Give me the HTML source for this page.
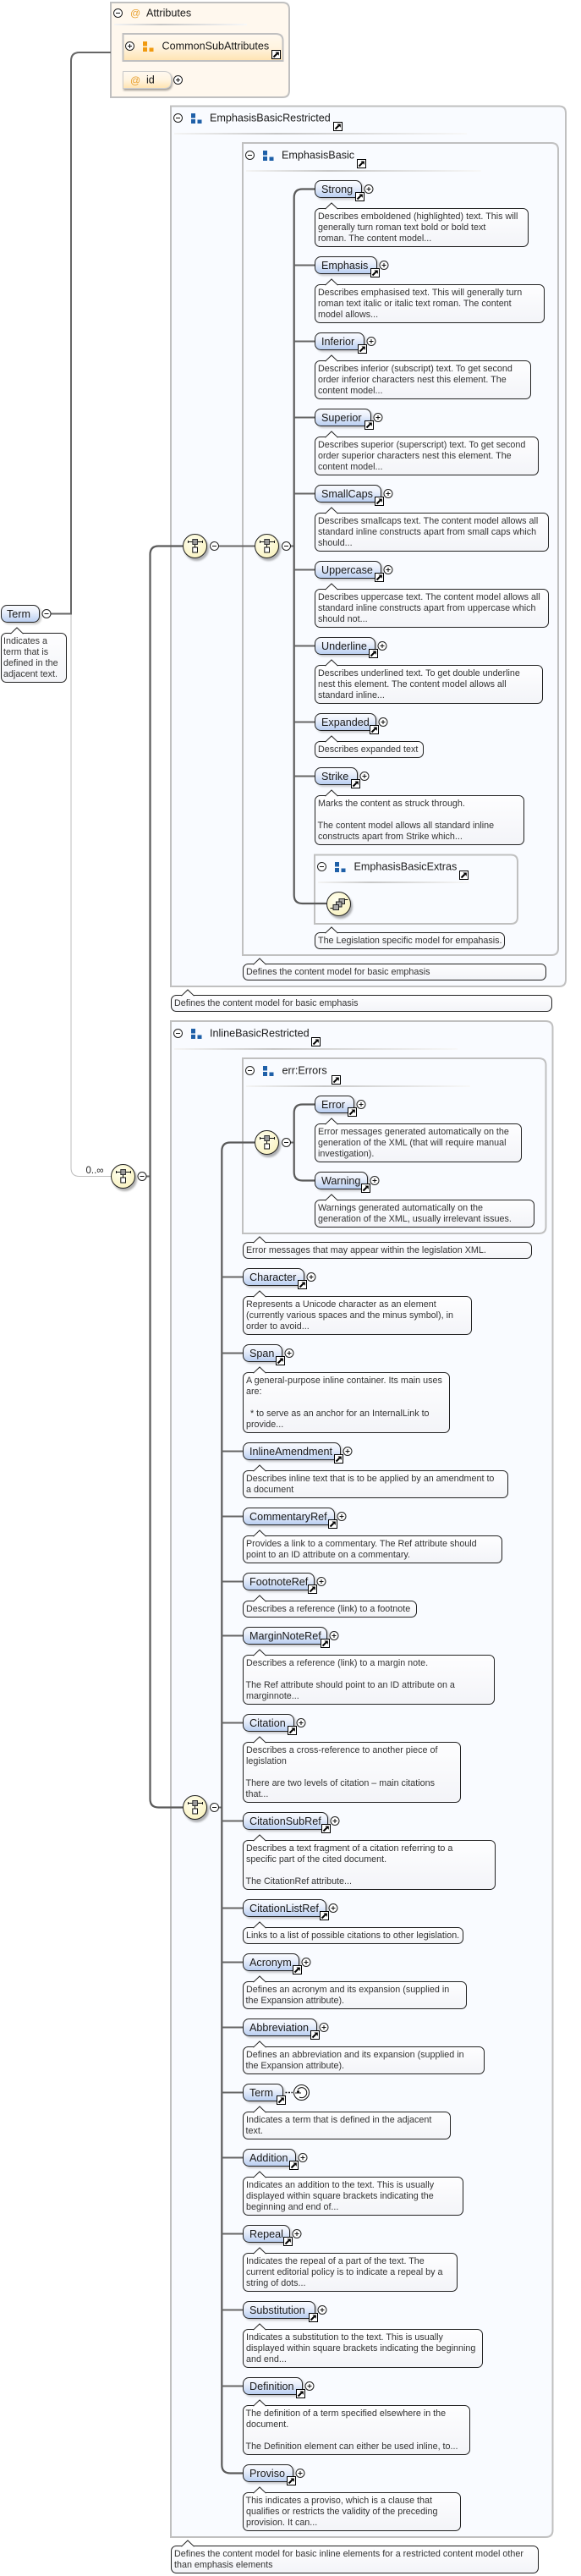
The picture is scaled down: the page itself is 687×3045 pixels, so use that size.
<!DOCTYPE html>
<html><head><meta charset="utf-8"><style>
html,body{margin:0;padding:0;background:#fff}
svg{display:block}
text{font-family:"Liberation Sans",sans-serif;white-space:pre}
.d{font-size:10.75px;fill:#333}
.e{font-size:12.6px;fill:#1a1a1a}
.n{fill:url(#ng);stroke:#222;stroke-width:1;filter:drop-shadow(2px 2px 1px rgba(0,0,0,.2))}
.t{fill:url(#tg);stroke:#222}
.b{fill:#f9fbff;stroke:#c0c0c0;stroke-width:2}
.c{fill:none;stroke:#666;stroke-width:2}
.v{fill:none;stroke:#5a5a5a;stroke-width:2.2}
.dv{fill:url(#dg)}
</style></head><body>
<svg width="687" height="3045" viewBox="0 0 687 3045" xmlns="http://www.w3.org/2000/svg">
<defs>
<linearGradient id="ng" x1="0" y1="0" x2="0" y2="1"><stop offset="0" stop-color="#fbfcff"/><stop offset=".4" stop-color="#e9effb"/><stop offset="1" stop-color="#b8cdf0"/></linearGradient>
<linearGradient id="tg" x1="0" y1="0" x2="0" y2="1"><stop offset="0" stop-color="#fefeff"/><stop offset="1" stop-color="#f3f4f8"/></linearGradient>
<linearGradient id="dg" x1="0" y1="0" x2="1" y2="0"><stop offset="0" stop-color="#f4f4f4"/><stop offset=".35" stop-color="#c8c8c8"/><stop offset="1" stop-color="#f8f8f8"/></linearGradient>
<linearGradient id="og" x1="0" y1="0" x2="0" y2="1"><stop offset="0" stop-color="#fff9f0"/><stop offset=".5" stop-color="#fff4e0"/><stop offset="1" stop-color="#ffe3b0"/></linearGradient>
<radialGradient id="yg" cx=".4" cy=".35" r=".8"><stop offset="0" stop-color="#fffff0"/><stop offset="1" stop-color="#f8f0b8"/></radialGradient>
<g id="lk"><rect x=".5" y=".5" width="10" height="10" fill="#fff" stroke="#000"/><path d="M2.5 8.5L6.5 4.5" stroke="#000" stroke-width="2"/><path d="M4.5 2.5H8.8V6.8Z" fill="#000"/></g>
<g id="bp"><circle r="5" fill="#fff" stroke="#222"/><path d="M-2.5 0H2.5M0-2.5V2.5" stroke="#111"/></g>
<g id="bm"><circle r="5" fill="#fff" stroke="#222"/><path d="M-2.5 0H2.5" stroke="#111"/></g>
<path id="pt" d="M-7.5 .7L0-6.5L7.5 .7" fill="#fefeff" stroke="#222"/>
<g id="sq"><circle r="14" fill="url(#yg)" stroke="#222" style="filter:drop-shadow(2px 3px 1px rgba(0,0,0,.3))"/><path d="M-8-5H9M0-2V1.5M-8-6.5V-3.5M9-6.5V-3.5" stroke="#111"/><rect x="-2.7" y="-8" width="5.7" height="6" fill="#999" stroke="#333"/><rect x="-2.7" y="1.5" width="5.7" height="6" fill="#fff" stroke="#111"/></g>
<g id="gb" fill="#1f60a8"><rect width="5" height="5.5"/><rect y="7" width="5" height="5"/><rect x="7.5" y="7.5" width="5" height="4.5"/></g>
<g id="go" fill="#f09a10"><rect width="5" height="5.5"/><rect y="7" width="5" height="5"/><rect x="7.5" y="7.5" width="5" height="4.5"/></g>
</defs>

<!-- boxes -->
<path d="M131 3H334Q342 3 342 11V107Q342 115 334 115H131Z" fill="#fff8ee" stroke="#c0c0c0" stroke-width="2"/>
<path class="b" d="M202 125.500H661Q669 125.500 669 133.500V1158Q669 1166 661 1166H202Z"/>
<path class="b" d="M287 169H652Q660 169 660 177V1121Q660 1129 652 1129H287Z"/>
<path class="b" d="M372 1010.500H604Q612 1010.500 612 1018.500V1084Q612 1092 604 1092H372Z"/>
<path class="b" d="M202 1207H645Q653.500 1207 653.500 1215V2991Q653.500 2999 645 2999H202Z"/>
<path class="b" d="M287 1251H637Q645.500 1251 645.500 1259V1450Q645.500 1458 637 1458H287Z"/>

<!-- connectors -->
<path d="M84 725V1380.500Q84 1390.500 94 1390.500H131" fill="none" stroke="#bdbdbd"/>
<path class="c" d="M60 725.500H84V72Q84 62 94 62H131"/>
<path class="c" d="M173 1390.500H177.500"/>
<path class="v" d="M216 645.500H187.500Q177.500 645.500 177.500 655.500V2126.500Q177.500 2136.500 187.500 2136.500H216"/>
<path class="c" d="M258 645.500H301M343 645.500H348M258 2136.500H262.500M343 1350.500H348"/>
<path class="v" d="M372 223.500H357.700Q347.700 223.500 347.700 233.500V1058Q347.700 1068 357.700 1068H386"/>
<path class="c" d="M348 313.500H372M348 403.500H372M348 493.500H372M348 583.500H372M348 673.500H372M348 763.500H372M348 853.500H372M348 917.500H372"/>
<path class="v" d="M372 1305.500H357.700Q347.700 1305.500 347.700 1315.500V1385.500Q347.700 1395.500 357.700 1395.500H372"/>
<path class="v" d="M301 1350.500H272.300Q262.300 1350.500 262.300 1360.500V2913.500Q262.300 2923.500 272.300 2923.500H287"/>
<path class="c" d="M262 1509.500H287M262 1599.500H287M262 1715.500H287M262 1792.500H287M262 1869.500H287M262 1933.500H287M262 2036.500H287M262 2152.500H287M262 2255.500H287M262 2319.500H287M262 2396.500H287M262 2473.500H287M262 2550.500H287M262 2640.500H287M262 2730.500H287M262 2820.500H287"/>

<!-- Attributes -->
<use href="#bm" x="139.500" y="15.500"/>
<text x="154" y="19.500" style="font-size:12px;fill:#e8a030">@</text>
<text class="e" x="173" y="19.500">Attributes</text>
<rect class="dv" x="135" y="28" width="157" height="2"/>
<path d="M145.500 40H326Q334.500 40 334.500 48V72H145.500Z" fill="url(#og)" stroke="#c0c0c0" stroke-width="2"/>
<use href="#bp" x="153.500" y="54.500"/>
<use href="#go" x="169" y="49"/>
<text class="e" x="191.500" y="58.500">CommonSubAttributes</text>
<use href="#lk" x="321" y="59"/>
<path d="M145.500 84.500H194Q202.500 84.500 202.500 93V96Q202.500 104.500 194 104.500H145.500Z" fill="url(#og)" stroke="#ccc" style="filter:drop-shadow(1px 2px 1px rgba(0,0,0,.35))"/>
<text x="154" y="99" style="font-size:12px;fill:#e8a030">@</text>
<text class="e" x="173" y="98.500">id</text>
<use href="#bp" x="210.500" y="94.500"/>

<!-- EmphasisBasicRestricted -->
<use href="#bm" x="210.500" y="139.500"/><use href="#gb" x="226" y="134"/>
<text class="e" x="248" y="143.500">EmphasisBasicRestricted</text>
<use href="#lk" x="394" y="144"/><rect class="dv" x="206" y="157" width="346" height="2"/>
<use href="#bm" x="295.500" y="183.500"/><use href="#gb" x="311" y="178"/>
<text class="e" x="333" y="187.500">EmphasisBasic</text>
<use href="#lk" x="422" y="188"/><rect class="dv" x="291" y="201" width="278" height="2"/>

<!-- root -->
<g transform="translate(1,715)"><rect class="n" x=".5" y=".5" width="45" height="20" rx="7"/><text class="e" x="7" y="15">Term</text></g>
<use href="#bm" x="55" y="725.500"/>
<g transform="translate(1,748)"><rect class="t" x=".5" y=".5" width="77" height="58" rx="6"/><use href="#pt" x="19" y=".5"/><text class="d" x="3" y="13">Indicates a</text><text class="d" x="3" y="26">term that is</text><text class="d" x="3" y="39">defined in the</text><text class="d" x="3" y="52">adjacent text.</text></g>
<text x="101.500" y="1387" style="font-size:11.500px;fill:#222">0..∞</text>

<use href="#sq" x="145.500" y="1390.500"/><use href="#bm" x="168" y="1390.500"/>
<use href="#sq" x="230.500" y="645.500"/><use href="#bm" x="253.500" y="645.500"/>
<use href="#sq" x="315.500" y="645.500"/><use href="#bm" x="338.500" y="645.500"/>
<use href="#sq" x="230.500" y="2136.500"/><use href="#bm" x="253.500" y="2136.500"/>
<use href="#sq" x="315.500" y="1350.500"/><use href="#bm" x="338.500" y="1350.500"/>

<!-- Emphasis items -->
<g transform="translate(372,213)"><rect class="n" x=".5" y=".5" width="55" height="20" rx="7"/><text class="e" x="8" y="15">Strong</text><use href="#lk" x="48" y="14"/><use href="#bp" x="64" y="10.500"/></g>
<g transform="translate(372,246)"><rect class="t" x=".5" y=".5" width="252" height="45" rx="6"/><use href="#pt" x="20" y=".5"/><text class="d" x="4" y="13">Describes emboldened (highlighted) text. This will</text><text class="d" x="4" y="26">generally turn roman text bold or bold text</text><text class="d" x="4" y="39">roman. The content model...</text></g>

<g transform="translate(372,303)"><rect class="n" x=".5" y=".5" width="73" height="20" rx="7"/><text class="e" x="8" y="15">Emphasis</text><use href="#lk" x="66" y="14"/><use href="#bp" x="82" y="10.500"/></g>
<g transform="translate(372,336)"><rect class="t" x=".5" y=".5" width="271" height="45" rx="6"/><use href="#pt" x="20" y=".5"/><text class="d" x="4" y="13">Describes emphasised text. This will generally turn</text><text class="d" x="4" y="26">roman text italic or italic text roman. The content</text><text class="d" x="4" y="39">model allows...</text></g>

<g transform="translate(372,393)"><rect class="n" x=".5" y=".5" width="58" height="20" rx="7"/><text class="e" x="8" y="15">Inferior</text><use href="#lk" x="51" y="14"/><use href="#bp" x="67" y="10.500"/></g>
<g transform="translate(372,426)"><rect class="t" x=".5" y=".5" width="255" height="45" rx="6"/><use href="#pt" x="20" y=".5"/><text class="d" x="4" y="13">Describes inferior (subscript) text. To get second</text><text class="d" x="4" y="26">order inferior characters nest this element. The</text><text class="d" x="4" y="39">content model...</text></g>

<g transform="translate(372,483)"><rect class="n" x=".5" y=".5" width="66" height="20" rx="7"/><text class="e" x="8" y="15">Superior</text><use href="#lk" x="59" y="14"/><use href="#bp" x="75" y="10.500"/></g>
<g transform="translate(372,516)"><rect class="t" x=".5" y=".5" width="264" height="45" rx="6"/><use href="#pt" x="20" y=".5"/><text class="d" x="4" y="13">Describes superior (superscript) text. To get second</text><text class="d" x="4" y="26">order superior characters nest this element. The</text><text class="d" x="4" y="39">content model...</text></g>

<g transform="translate(372,573)"><rect class="n" x=".5" y=".5" width="78" height="20" rx="7"/><text class="e" x="8" y="15">SmallCaps</text><use href="#lk" x="71" y="14"/><use href="#bp" x="87" y="10.500"/></g>
<g transform="translate(372,606)"><rect class="t" x=".5" y=".5" width="276" height="45" rx="6"/><use href="#pt" x="20" y=".5"/><text class="d" x="4" y="13">Describes smallcaps text. The content model allows all</text><text class="d" x="4" y="26">standard inline constructs apart from small caps which</text><text class="d" x="4" y="39">should...</text></g>

<g transform="translate(372,663)"><rect class="n" x=".5" y=".5" width="78" height="20" rx="7"/><text class="e" x="8" y="15">Uppercase</text><use href="#lk" x="71" y="14"/><use href="#bp" x="87" y="10.500"/></g>
<g transform="translate(372,696)"><rect class="t" x=".5" y=".5" width="276" height="45" rx="6"/><use href="#pt" x="20" y=".5"/><text class="d" x="4" y="13">Describes uppercase text. The content model allows all</text><text class="d" x="4" y="26">standard inline constructs apart from uppercase which</text><text class="d" x="4" y="39">should not...</text></g>

<g transform="translate(372,753)"><rect class="n" x=".5" y=".5" width="71" height="20" rx="7"/><text class="e" x="8" y="15">Underline</text><use href="#lk" x="64" y="14"/><use href="#bp" x="80" y="10.500"/></g>
<g transform="translate(372,786)"><rect class="t" x=".5" y=".5" width="269" height="45" rx="6"/><use href="#pt" x="20" y=".5"/><text class="d" x="4" y="13">Describes underlined text. To get double underline</text><text class="d" x="4" y="26">nest this element. The content model allows all</text><text class="d" x="4" y="39">standard inline...</text></g>

<g transform="translate(372,843)"><rect class="n" x=".5" y=".5" width="72" height="20" rx="7"/><text class="e" x="8" y="15">Expanded</text><use href="#lk" x="65" y="14"/><use href="#bp" x="81" y="10.500"/></g>
<g transform="translate(372,876)"><rect class="t" x=".5" y=".5" width="128" height="19" rx="6"/><use href="#pt" x="20" y=".5"/><text class="d" x="4" y="13">Describes expanded text</text></g>

<g transform="translate(372,907)"><rect class="n" x=".5" y=".5" width="50" height="20" rx="7"/><text class="e" x="8" y="15">Strike</text><use href="#lk" x="43" y="14"/><use href="#bp" x="59" y="10.500"/></g>
<g transform="translate(372,940)"><rect class="t" x=".5" y=".5" width="247" height="58" rx="6"/><use href="#pt" x="20" y=".5"/><text class="d" x="4" y="13">Marks the content as struck through.</text><text class="d" x="3.500" y="39">The content model allows all standard inline</text><text class="d" x="4" y="52">constructs apart from Strike which...</text></g>

<!-- EmphasisBasicExtras -->
<use href="#bm" x="380.500" y="1024.500"/><use href="#gb" x="396" y="1019"/>
<text class="e" x="418.500" y="1028.500">EmphasisBasicExtras</text>
<use href="#lk" x="543" y="1029"/><rect class="dv" x="376" y="1042" width="179" height="2"/>
<g transform="translate(400.500,1068.500)"><circle r="14" fill="url(#yg)" stroke="#222" style="filter:drop-shadow(2px 3px 1px rgba(0,0,0,.3))"/><path d="M-10 5H-6M7-5H11" stroke="#111"/><rect x="0.500" y="-6" width="6.500" height="6" fill="#aaa" stroke="#222"/><rect x="-3" y="-2.500" width="6.500" height="6" fill="#aaa" stroke="#222"/><rect x="-6.500" y="1" width="6.500" height="6" fill="#aaa" stroke="#222"/></g>
<g transform="translate(372,1102)"><rect class="t" x=".5" y=".5" width="224" height="19" rx="6"/><use href="#pt" x="20" y=".5"/><text class="d" x="4" y="13">The Legislation specific model for empahasis.</text></g>
<g transform="translate(287,1139)"><rect class="t" x=".5" y=".5" width="358" height="19" rx="6"/><use href="#pt" x="20" y=".5"/><text class="d" x="4" y="13">Defines the content model for basic emphasis</text></g>
<g transform="translate(202,1176)"><rect class="t" x=".5" y=".5" width="450" height="19" rx="6"/><use href="#pt" x="20" y=".5"/><text class="d" x="4" y="13">Defines the content model for basic emphasis</text></g>

<!-- InlineBasicRestricted -->
<use href="#bm" x="210.500" y="1221.500"/><use href="#gb" x="226" y="1216"/>
<text class="e" x="248" y="1225.500">InlineBasicRestricted</text>
<use href="#lk" x="368" y="1226"/><rect class="dv" x="206" y="1239" width="335" height="2"/>
<use href="#bm" x="295.500" y="1265.500"/><use href="#gb" x="311" y="1260"/>
<text class="e" x="333.500" y="1269.500">err:Errors</text>
<use href="#lk" x="392" y="1271"/><rect class="dv" x="291" y="1283" width="265" height="2"/>

<g transform="translate(372,1295)"><rect class="n" x=".5" y=".5" width="46" height="20" rx="7"/><text class="e" x="8" y="15">Error</text><use href="#lk" x="39" y="14"/><use href="#bp" x="55" y="10.500"/></g>
<g transform="translate(372,1328)"><rect class="t" x=".5" y=".5" width="244" height="45" rx="6"/><use href="#pt" x="20" y=".5"/><text class="d" x="4" y="13">Error messages generated automatically on the</text><text class="d" x="4" y="26">generation of the XML (that will require manual</text><text class="d" x="4" y="39">investigation).</text></g>
<g transform="translate(372,1385)"><rect class="n" x=".5" y=".5" width="62" height="20" rx="7"/><text class="e" x="8" y="15">Warning</text><use href="#lk" x="55" y="14"/><use href="#bp" x="71" y="10.500"/></g>
<g transform="translate(372,1418)"><rect class="t" x=".5" y=".5" width="259" height="32" rx="6"/><use href="#pt" x="20" y=".5"/><text class="d" x="4" y="13">Warnings generated automatically on the</text><text class="d" x="4" y="26">generation of the XML, usually irrelevant issues.</text></g>
<g transform="translate(287,1468)"><rect class="t" x=".5" y=".5" width="341" height="19" rx="6"/><use href="#pt" x="20" y=".5"/><text class="d" x="4" y="13">Error messages that may appear within the legislation XML.</text></g>

<g transform="translate(287,1499)"><rect class="n" x=".5" y=".5" width="72" height="20" rx="7"/><text class="e" x="8" y="15">Character</text><use href="#lk" x="65" y="14"/><use href="#bp" x="81" y="10.500"/></g>
<g transform="translate(287,1532)"><rect class="t" x=".5" y=".5" width="270" height="45" rx="6"/><use href="#pt" x="20" y=".5"/><text class="d" x="4" y="13">Represents a Unicode character as an element</text><text class="d" x="4" y="26">(currently various spaces and the minus symbol), in</text><text class="d" x="4" y="39">order to avoid...</text></g>

<g transform="translate(287,1589)"><rect class="n" x=".5" y=".5" width="46" height="20" rx="7"/><text class="e" x="8" y="15">Span</text><use href="#lk" x="39" y="14"/><use href="#bp" x="55" y="10.500"/></g>
<g transform="translate(287,1622)"><rect class="t" x=".5" y=".5" width="244" height="71" rx="6"/><use href="#pt" x="20" y=".5"/><text class="d" x="4" y="13">A general-purpose inline container. Its main uses</text><text class="d" x="4" y="26">are:</text><text class="d" x="9" y="52">* to serve as an anchor for an InternalLink to</text><text class="d" x="4" y="65">provide...</text></g>

<g transform="translate(287,1705)"><rect class="n" x=".5" y=".5" width="115" height="20" rx="7"/><text class="e" x="8" y="15">InlineAmendment</text><use href="#lk" x="108" y="14"/><use href="#bp" x="124" y="10.500"/></g>
<g transform="translate(287,1738)"><rect class="t" x=".5" y=".5" width="313" height="32" rx="6"/><use href="#pt" x="20" y=".5"/><text class="d" x="4" y="13">Describes inline text that is to be applied by an amendment to</text><text class="d" x="4" y="26">a document</text></g>

<g transform="translate(287,1782)"><rect class="n" x=".5" y=".5" width="108" height="20" rx="7"/><text class="e" x="8" y="15">CommentaryRef</text><use href="#lk" x="101" y="14"/><use href="#bp" x="117" y="10.500"/></g>
<g transform="translate(287,1815)"><rect class="t" x=".5" y=".5" width="306" height="32" rx="6"/><use href="#pt" x="20" y=".5"/><text class="d" x="4" y="13">Provides a link to a commentary. The Ref attribute should</text><text class="d" x="4" y="26">point to an ID attribute on a commentary.</text></g>

<g transform="translate(287,1859)"><rect class="n" x=".5" y=".5" width="84" height="20" rx="7"/><text class="e" x="8" y="15">FootnoteRef</text><use href="#lk" x="77" y="14"/><use href="#bp" x="93" y="10.500"/></g>
<g transform="translate(287,1892)"><rect class="t" x=".5" y=".5" width="205" height="19" rx="6"/><use href="#pt" x="20" y=".5"/><text class="d" x="4" y="13">Describes a reference (link) to a footnote</text></g>

<g transform="translate(287,1923)"><rect class="n" x=".5" y=".5" width="99" height="20" rx="7"/><text class="e" x="8" y="15">MarginNoteRef</text><use href="#lk" x="92" y="14"/><use href="#bp" x="108" y="10.500"/></g>
<g transform="translate(287,1956)"><rect class="t" x=".5" y=".5" width="297" height="58" rx="6"/><use href="#pt" x="20" y=".5"/><text class="d" x="4" y="13">Describes a reference (link) to a margin note.</text><text class="d" x="3.500" y="39">The Ref attribute should point to an ID attribute on a</text><text class="d" x="4" y="52">marginnote...</text></g>

<g transform="translate(287,2026)"><rect class="n" x=".5" y=".5" width="60" height="20" rx="7"/><text class="e" x="8" y="15">Citation</text><use href="#lk" x="53" y="14"/><use href="#bp" x="69" y="10.500"/></g>
<g transform="translate(287,2059)"><rect class="t" x=".5" y=".5" width="257" height="71" rx="6"/><use href="#pt" x="20" y=".5"/><text class="d" x="4" y="13">Describes a cross-reference to another piece of</text><text class="d" x="4" y="26">legislation</text><text class="d" x="3.500" y="52">There are two levels of citation – main citations</text><text class="d" x="3.500" y="65">that...</text></g>

<g transform="translate(287,2142)"><rect class="n" x=".5" y=".5" width="100" height="20" rx="7"/><text class="e" x="8" y="15">CitationSubRef</text><use href="#lk" x="93" y="14"/><use href="#bp" x="109" y="10.500"/></g>
<g transform="translate(287,2175)"><rect class="t" x=".5" y=".5" width="298" height="58" rx="6"/><use href="#pt" x="20" y=".5"/><text class="d" x="4" y="13">Describes a text fragment of a citation referring to a</text><text class="d" x="4" y="26">specific part of the cited document.</text><text class="d" x="3.500" y="52">The CitationRef attribute...</text></g>

<g transform="translate(287,2245)"><rect class="n" x=".5" y=".5" width="98" height="20" rx="7"/><text class="e" x="8" y="15">CitationListRef</text><use href="#lk" x="91" y="14"/><use href="#bp" x="107" y="10.500"/></g>
<g transform="translate(287,2278)"><rect class="t" x=".5" y=".5" width="260" height="19" rx="6"/><use href="#pt" x="20" y=".5"/><text class="d" x="4" y="13">Links to a list of possible citations to other legislation.</text></g>

<g transform="translate(287,2309)"><rect class="n" x=".5" y=".5" width="66" height="20" rx="7"/><text class="e" x="8" y="15">Acronym</text><use href="#lk" x="59" y="14"/><use href="#bp" x="75" y="10.500"/></g>
<g transform="translate(287,2342)"><rect class="t" x=".5" y=".5" width="264" height="32" rx="6"/><use href="#pt" x="20" y=".5"/><text class="d" x="4" y="13">Defines an acronym and its expansion (supplied in</text><text class="d" x="3.500" y="26">the Expansion attribute).</text></g>

<g transform="translate(287,2386)"><rect class="n" x=".5" y=".5" width="87" height="20" rx="7"/><text class="e" x="8" y="15">Abbreviation</text><use href="#lk" x="80" y="14"/><use href="#bp" x="96" y="10.500"/></g>
<g transform="translate(287,2419)"><rect class="t" x=".5" y=".5" width="285" height="32" rx="6"/><use href="#pt" x="20" y=".5"/><text class="d" x="4" y="13">Defines an abbreviation and its expansion (supplied in</text><text class="d" x="3.500" y="26">the Expansion attribute).</text></g>

<g transform="translate(287,2463)"><rect class="n" x=".5" y=".5" width="47" height="20" rx="7"/><text class="e" x="8" y="15">Term</text><use href="#lk" x="40" y="14"/></g>
<path d="M337.500 2473.500H346" stroke="#111" stroke-width="1.500" stroke-dasharray="2 1.500" fill="none"/>
<circle cx="356.500" cy="2473.500" r="9" fill="#fff" stroke="#111"/><path d="M352 2470A6 6 0 1 1 354 2479M349 2474H356" fill="none" stroke="#111"/><circle cx="352.500" cy="2472.500" r="1.500" fill="#111"/>
<g transform="translate(287,2496)"><rect class="t" x=".5" y=".5" width="245" height="32" rx="6"/><use href="#pt" x="20" y=".5"/><text class="d" x="4" y="13">Indicates a term that is defined in the adjacent</text><text class="d" x="3.500" y="26">text.</text></g>

<g transform="translate(287,2540)"><rect class="n" x=".5" y=".5" width="62" height="20" rx="7"/><text class="e" x="8" y="15">Addition</text><use href="#lk" x="55" y="14"/><use href="#bp" x="71" y="10.500"/></g>
<g transform="translate(287,2573)"><rect class="t" x=".5" y=".5" width="260" height="45" rx="6"/><use href="#pt" x="20" y=".5"/><text class="d" x="4" y="13">Indicates an addition to the text. This is usually</text><text class="d" x="4" y="26">displayed within square brackets indicating the</text><text class="d" x="4" y="39">beginning and end of...</text></g>

<g transform="translate(287,2630)"><rect class="n" x=".5" y=".5" width="55" height="20" rx="7"/><text class="e" x="8" y="15">Repeal</text><use href="#lk" x="48" y="14"/><use href="#bp" x="64" y="10.500"/></g>
<g transform="translate(287,2663)"><rect class="t" x=".5" y=".5" width="253" height="45" rx="6"/><use href="#pt" x="20" y=".5"/><text class="d" x="4" y="13">Indicates the repeal of a part of the text. The</text><text class="d" x="4" y="26">current editorial policy is to indicate a repeal by a</text><text class="d" x="4" y="39">string of dots...</text></g>

<g transform="translate(287,2720)"><rect class="n" x=".5" y=".5" width="85" height="20" rx="7"/><text class="e" x="8" y="15">Substitution</text><use href="#lk" x="78" y="14"/><use href="#bp" x="94" y="10.500"/></g>
<g transform="translate(287,2753)"><rect class="t" x=".5" y=".5" width="283" height="45" rx="6"/><use href="#pt" x="20" y=".5"/><text class="d" x="4" y="13">Indicates a substitution to the text. This is usually</text><text class="d" x="4" y="26">displayed within square brackets indicating the beginning</text><text class="d" x="4" y="39">and end...</text></g>

<g transform="translate(287,2810)"><rect class="n" x=".5" y=".5" width="70" height="20" rx="7"/><text class="e" x="8" y="15">Definition</text><use href="#lk" x="63" y="14"/><use href="#bp" x="79" y="10.500"/></g>
<g transform="translate(287,2843)"><rect class="t" x=".5" y=".5" width="268" height="58" rx="6"/><use href="#pt" x="20" y=".5"/><text class="d" x="3.500" y="13">The definition of a term specified elsewhere in the</text><text class="d" x="4" y="26">document.</text><text class="d" x="3.500" y="52">The Definition element can either be used inline, to...</text></g>

<g transform="translate(287,2913)"><rect class="n" x=".5" y=".5" width="59" height="20" rx="7"/><text class="e" x="8" y="15">Proviso</text><use href="#lk" x="52" y="14"/><use href="#bp" x="68" y="10.500"/></g>
<g transform="translate(287,2946)"><rect class="t" x=".5" y=".5" width="257" height="45" rx="6"/><use href="#pt" x="20" y=".5"/><text class="d" x="3.500" y="13">This indicates a proviso, which is a clause that</text><text class="d" x="4" y="26">qualifies or restricts the validity of the preceding</text><text class="d" x="4" y="39">provision. It can...</text></g>

<g transform="translate(202,3009)"><rect class="t" x=".5" y=".5" width="434" height="32" rx="6"/><use href="#pt" x="20" y=".5"/><text class="d" x="4" y="13">Defines the content model for basic inline elements for a restricted content model other</text><text class="d" x="4" y="26">than emphasis elements</text></g>
</svg>
</body></html>
